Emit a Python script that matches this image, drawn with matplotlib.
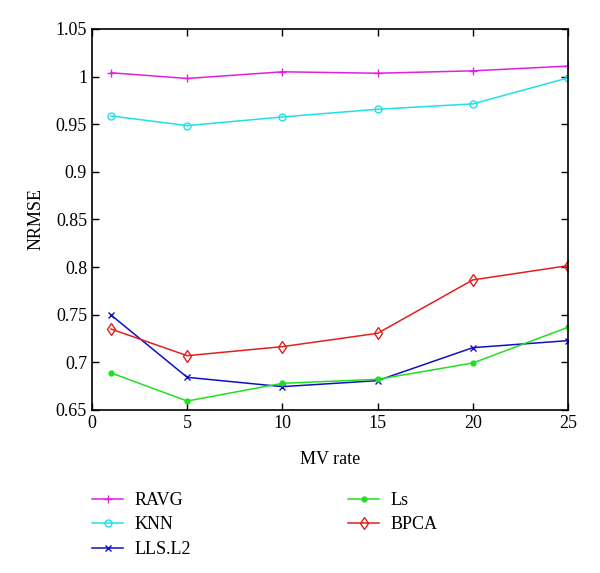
import matplotlib
matplotlib.use("Agg")
import matplotlib.pyplot as plt

mv_rate = [1, 5, 10, 15, 20, 25]
ravg = [1.004, 0.998, 1.005, 1.0035, 1.006, 1.011]
knn = [0.9587, 0.9485, 0.9576, 0.9657, 0.9713, 0.9986]
lls_l2 = [0.7497, 0.6843, 0.6745, 0.6808, 0.7154, 0.7228]
ls = [0.6889, 0.6594, 0.678, 0.6822, 0.6993, 0.7368]
bpca = [0.735, 0.707, 0.7165, 0.7305, 0.7865, 0.8015]

plt.rcParams['font.family'] = ['Liberation Serif', 'DejaVu Serif']

fig = plt.figure(figsize=(6, 5.73), dpi=100)
ax = fig.add_axes([0.1533, 0.2845, 0.7933, 0.665])

ax.plot(mv_rate, ravg, color='#e020e0', marker='+', ms=6, lw=1.1, label='RAVG')
ax.plot(mv_rate, knn, color='#20e0e8', marker='o', ms=5, mfc='none', lw=1.1, label='KNN')
ax.plot(mv_rate, lls_l2, color='#1010c0', marker='x', ms=4, lw=1.1, label='LLS.L2')
ax.plot(mv_rate, ls, color='#20e020', marker='o', ms=3.5, lw=1.1, label='Ls')
ax.plot(mv_rate, bpca, color='#e02020', marker='d', ms=6, mfc='none', lw=1.1, label='BPCA')

ax.set_xlim(0, 25)
ax.set_ylim(0.65, 1.05)
ax.set_xticks([0, 5, 10, 15, 20, 25])
ax.set_yticks([0.65, 0.7, 0.75, 0.8, 0.85, 0.9, 0.95, 1.0, 1.05])
ax.set_yticklabels(['0.65', '0.7', '0.75', '0.8', '0.85', '0.9', '0.95', '1', '1.05'])
ax.tick_params(direction='in', top=True, right=True, labelsize=13, length=5, width=1)
for s in ax.spines.values():
    s.set_linewidth(1.2)
ax.set_xlabel('MV rate', fontsize=13, labelpad=14)
ax.set_ylabel('NRMSE', fontsize=13, labelpad=8)

handles, labels = ax.get_legend_handles_labels()
fig.legend(handles, labels,
           loc='upper left', bbox_to_anchor=(0.127, 0.17), ncol=2, frameon=False,
           fontsize=13, handlelength=1.7, columnspacing=8.7, labelspacing=0.42,
           handletextpad=0.65)

fig.savefig('out.png', dpi=100)
